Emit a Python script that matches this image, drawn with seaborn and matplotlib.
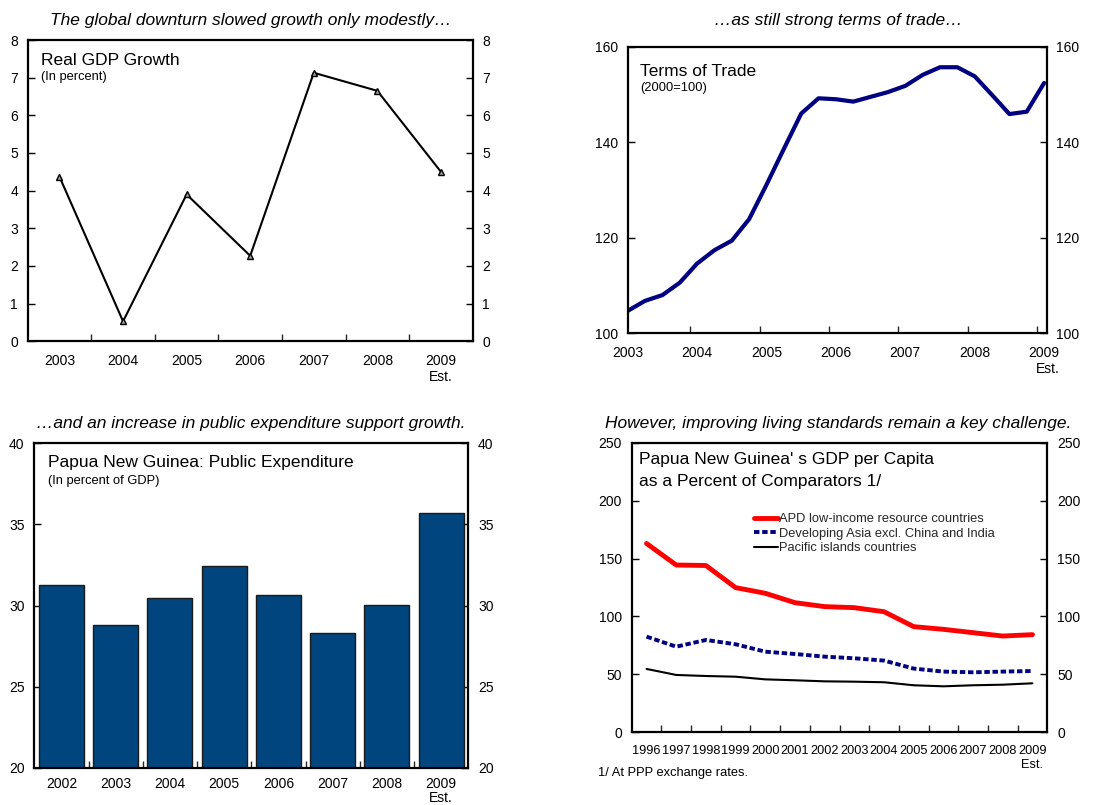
import numpy as np
import pandas as pd
import matplotlib
matplotlib.use("Agg")
import matplotlib.pyplot as plt
import seaborn as sns

# ---- data -------------------------------------------------------------
gdp_years = ["2003", "2004", "2005", "2006", "2007", "2008", "2009"]
gdp_growth = [4.37, 0.53, 3.90, 2.27, 7.13, 6.65, 4.50]

tot_year_labels = ["2003", "2004", "2005", "2006", "2007", "2008", "2009"]
tot_index = [104.7, 106.8, 108.0, 110.6, 114.6, 117.4, 119.4, 123.9,
             131.1, 138.6, 146.0, 149.2, 149.0, 148.5, 149.5, 150.5,
             151.8, 154.1, 155.7, 155.7, 153.8, 149.9, 145.9, 146.4,
             152.4]

exp_years = ["2002", "2003", "2004", "2005", "2006", "2007", "2008", "2009"]
exp_share = [31.26, 28.78, 30.46, 32.46, 30.65, 28.30, 30.03, 35.72]

pc_years = ["1996", "1997", "1998", "1999", "2000", "2001", "2002",
            "2003", "2004", "2005", "2006", "2007", "2008", "2009"]
apd_low_income = [163.0, 144.4, 144.0, 124.9, 120.0, 111.9, 108.5,
                  107.6, 104.1, 91.2, 88.9, 86.0, 83.1, 84.3]
dev_asia = [82.6, 73.9, 79.7, 76.0, 69.6, 67.6, 65.3,
            63.9, 61.9, 55.0, 52.4, 51.8, 52.4, 52.9]
pacific_islands = [54.7, 49.5, 48.6, 48.0, 45.7, 44.9, 44.0,
                   43.7, 43.2, 40.6, 39.7, 40.6, 41.1, 42.3]

series_names = ["APD low-income resource countries",
                "Developing Asia excl. China and India",
                "Pacific islands countries"]

# ---- style ------------------------------------------------------------
sns.set_theme(style="white")
plt.rcParams["font.family"] = ["Liberation Sans", "DejaVu Sans"]
plt.rcParams["axes.linewidth"] = 1.5
plt.rcParams["axes.edgecolor"] = "black"

W, H = 1113, 805
fig = plt.figure(figsize=(W / 100, H / 100), dpi=100)


def axes_px(left, top, right, bottom):
    return fig.add_axes([left / W, 1 - bottom / H,
                         (right - left) / W, (bottom - top) / H])


def text_px(x, y, s, **kw):
    fig.text(x / W, 1 - y / H, s, **kw)


def frame(ax, ylo, yhi, ystep):
    ax.set_ylim(ylo, yhi)
    ax.set_yticks(np.arange(ylo, yhi + ystep / 2, ystep))
    ax.yaxis.set_major_formatter(matplotlib.ticker.FormatStrFormatter("%d"))
    ax.tick_params(axis="y", direction="in", left=True, right=True,
                   labelleft=True, labelright=True, length=5, width=1,
                   labelsize=10, pad=7, colors="black")
    ax.set_xlabel("")
    ax.set_ylabel("")
    for sp in ax.spines.values():
        sp.set_visible(True)
        sp.set_color("black")
        sp.set_linewidth(1.6)
    ax.set_facecolor("white")


def category_axis(ax, labels, fontsize=10, pad=9, linespacing=1.2):
    n = len(labels)
    pos = np.arange(n)
    ax.set_xlim(-0.5, n - 0.5)
    ax.set_xticks(pos)
    ax.set_xticklabels(labels)
    for lbl in ax.get_xticklabels():
        lbl.set_linespacing(linespacing)
    ax.set_xticks(np.arange(0.5, n - 0.5), minor=True)
    ax.tick_params(axis="x", which="major", length=0, labelsize=fontsize,
                   pad=pad, colors="black")
    ax.tick_params(axis="x", which="minor", direction="in", bottom=True,
                   length=5, width=1)


# ---- panel 1: real GDP growth ----------------------------------------
ax1 = axes_px(27.7, 40, 472.7, 341.3)
df1 = pd.DataFrame({"pos": np.arange(len(gdp_years)), "growth": gdp_growth})
sns.lineplot(data=df1, x="pos", y="growth", ax=ax1, color="black",
             linewidth=1.5, marker="^", markersize=5,
             markerfacecolor="#9a9a9a", markeredgecolor="black",
             markeredgewidth=1)
frame(ax1, 0, 8, 1)
category_axis(ax1, gdp_years[:-1] + [gdp_years[-1] + "\nEst."])

# ---- panel 2: terms of trade -----------------------------------------
ax2 = axes_px(627.7, 46.7, 1046.7, 333.3)
df2 = pd.DataFrame({"q": np.arange(len(tot_index)), "tot": tot_index})
sns.lineplot(data=df2, x="q", y="tot", ax=ax2, color="#000080",
             linewidth=3)
frame(ax2, 100, 160, 20)
ax2.set_xlim(0, len(tot_index) - 0.85)
label_pos = np.arange(0, len(tot_index), 4)
ax2.set_xticks(label_pos)
ax2.set_xticklabels(tot_year_labels[:-1] + [tot_year_labels[-1] + "\nEst."])
ax2.get_xticklabels()[-1].set_multialignment("right")
ax2.set_xticks(label_pos[1:] - 0.4, minor=True)
ax2.tick_params(axis="x", which="major", length=0, labelsize=10, pad=9,
                colors="black")
ax2.tick_params(axis="x", which="minor", direction="in", bottom=True,
                length=5, width=1)

# ---- panel 3: public expenditure -------------------------------------
ax3 = axes_px(34.3, 443.3, 468.3, 767.7)
df3 = pd.DataFrame({"year": exp_years, "share": exp_share})
sns.barplot(data=df3, x="year", y="share", ax=ax3, color="#00457e",
            saturation=1, width=0.83, edgecolor="#1a1a1a", linewidth=1)
frame(ax3, 20, 40, 5)
category_axis(ax3, exp_years[:-1] + [exp_years[-1] + "\nEst."],
              pad=7, linespacing=0.95)

# ---- panel 4: GDP per capita relative to comparators -----------------
ax4 = axes_px(631.7, 442.7, 1047.3, 732.3)
pos4 = np.arange(len(pc_years))
sns.lineplot(x=pos4, y=apd_low_income, ax=ax4, color="#ff0000",
             linewidth=3.5, label=series_names[0])
sns.lineplot(x=pos4, y=dev_asia, ax=ax4, color="#000080",
             linewidth=2.8, label=series_names[1])
ax4.lines[-1].set_dashes((1.4, 0.7))
sns.lineplot(x=pos4, y=pacific_islands, ax=ax4, color="black",
             linewidth=1.5, label=series_names[2])
frame(ax4, 0, 250, 50)
category_axis(ax4, pc_years[:-1] + [pc_years[-1] + "\nEst."], fontsize=9.2)
ax4.legend(loc="upper left", bbox_to_anchor=(754 / W, 1 - 513 / H),
           bbox_transform=fig.transFigure, frameon=False, fontsize=9.3,
           handlelength=1.85, handletextpad=0.1, labelspacing=0.2,
           borderpad=0, borderaxespad=0)

# ---- headings ---------------------------------------------------------
head = dict(fontsize=12.5, style="italic", ha="center", va="baseline",
            color="black")
text_px(251, 25, "The global downturn slowed growth only modestly…", **head)
text_px(838, 25, "…as still strong terms of trade…", **head)
text_px(251, 428, "…and an increase in public expenditure support growth.",
        **head)
text_px(838, 428, "However, improving living standards remain a key challenge.",
        **head)

big = dict(fontsize=12.5, ha="left", va="baseline", color="black")
small = dict(fontsize=9.3, ha="left", va="baseline", color="black")
text_px(41, 65, "Real GDP Growth", **big)
text_px(41, 80, "(In percent)", **small)
text_px(640, 76, "Terms of Trade", **big)
text_px(640, 91, "(2000=100)", **small)
text_px(48, 467, "Papua New Guinea: Public Expenditure", **big)
text_px(48, 484, "(In percent of GDP)", **small)
text_px(639, 464, "Papua New Guinea' s GDP per Capita", **big)
text_px(639, 486, "as a Percent of Comparators 1/", **big)
text_px(598, 776, "1/ At PPP exchange rates.", fontsize=9.3, ha="left",
        va="baseline", color="black")

fig.savefig("out.png", dpi=100, facecolor="white")
